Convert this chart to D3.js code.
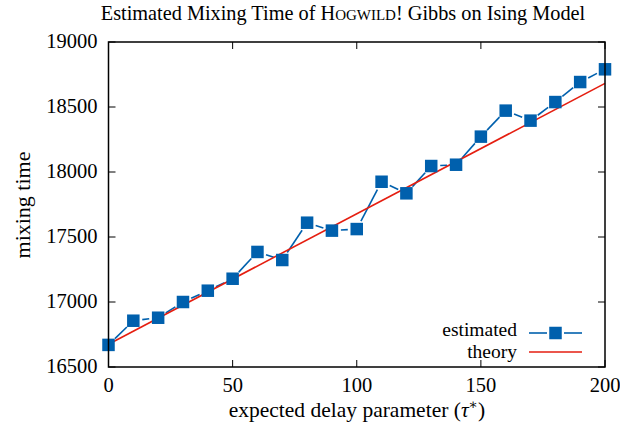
<!DOCTYPE html>
<html><head><meta charset="utf-8">
<script src="https://cdn.jsdelivr.net/npm/d3@7"></script>
<style>body{margin:0;background:#fff}svg{display:block}text{font-family:"Liberation Serif","DejaVu Serif",serif;fill:#000}</style>
</head><body>
<svg id="c" width="620" height="425"></svg>
<script>
const delays = [0,10,20,30,40,50,60,70,80,90,100,110,120,130,140,150,160,170,180,190,200];
const estimated = [16670,16856,16879,17000,17087,17179,17385,17323,17610,17549,17561,17925,17836,18046,18056,18272,18472,18395,18538,18692,18790];
const theoryEnds = [[0,16675],[200,18682]];
const xTicks = [0,50,100,150,200];
const yTicks = [16500,17000,17500,18000,18500,19000];

const svg = d3.select("#c");
const L=108.5, R=605, T=42, B=367;
const x = d3.scaleLinear().domain([0,200]).range([L,R]);
const y = d3.scaleLinear().domain([16500,19000]).range([B,T]);

const tl = 7, fs = 20.5;
const g = svg.append("g");
xTicks.forEach(t=>{
  g.append("line").attr("x1",x(t)).attr("x2",x(t)).attr("y1",B).attr("y2",B-tl).attr("stroke","#000").attr("stroke-width",1);
  g.append("line").attr("x1",x(t)).attr("x2",x(t)).attr("y1",T).attr("y2",T+tl).attr("stroke","#000").attr("stroke-width",1);
  g.append("text").attr("x",x(t)).attr("y",B+25).attr("text-anchor","middle").attr("font-size",fs).text(t);
});
yTicks.forEach(t=>{
  g.append("line").attr("x1",L).attr("x2",L+tl).attr("y1",y(t)).attr("y2",y(t)).attr("stroke","#000").attr("stroke-width",1);
  g.append("line").attr("x1",R).attr("x2",R-tl).attr("y1",y(t)).attr("y2",y(t)).attr("stroke","#000").attr("stroke-width",1);
  g.append("text").attr("x",L-11).attr("y",y(t)+6).attr("text-anchor","end").attr("font-size",fs).text(t);
});

const blue="#0060ad", red="#e51e10";
const gap=9;
for(let i=0;i<delays.length-1;i++){
  const x1=x(delays[i]), y1=y(estimated[i]), x2=x(delays[i+1]), y2=y(estimated[i+1]);
  const dx=x2-x1, dy=y2-y1, len=Math.hypot(dx,dy);
  if(len<=2*gap) continue;
  const ux=dx/len, uy=dy/len;
  svg.append("line").attr("x1",x1+ux*gap).attr("y1",y1+uy*gap).attr("x2",x2-ux*gap).attr("y2",y2-uy*gap)
    .attr("stroke",blue).attr("stroke-width",1.6);
}
svg.append("line").attr("x1",x(theoryEnds[0][0])).attr("y1",y(theoryEnds[0][1]))
  .attr("x2",x(theoryEnds[1][0])).attr("y2",y(theoryEnds[1][1])).attr("stroke",red).attr("stroke-width",1.6);
const ms=12.5;
svg.selectAll("rect.m").data(delays).join("rect").attr("class","m")
  .attr("x",(d)=>x(d)-ms/2).attr("y",(d,i)=>y(estimated[i])-ms/2).attr("width",ms).attr("height",ms).attr("fill",blue);

svg.append("rect").attr("x",L).attr("y",T).attr("width",R-L).attr("height",B-T).attr("fill","none").attr("stroke","#000").attr("stroke-width",1.5);

const lg = svg.append("g"), lfs=19.5;
lg.append("text").attr("x",517).attr("y",336).attr("text-anchor","end").attr("font-size",lfs).text("estimated");
lg.append("text").attr("x",517).attr("y",358).attr("text-anchor","end").attr("font-size",lfs).text("theory");
lg.append("line").attr("x1",529).attr("x2",547).attr("y1",333).attr("y2",333).attr("stroke",blue).attr("stroke-width",1.6);
lg.append("line").attr("x1",564).attr("x2",582).attr("y1",333).attr("y2",333).attr("stroke",blue).attr("stroke-width",1.6);
lg.append("rect").attr("x",555.5-ms/2).attr("y",333-ms/2).attr("width",ms).attr("height",ms).attr("fill",blue);
lg.append("line").attr("x1",529).attr("x2",582).attr("y1",352).attr("y2",352).attr("stroke",red).attr("stroke-width",1.6);

const title = svg.append("text").attr("x",343).attr("y",20).attr("text-anchor","middle").attr("font-size",20.3);
title.append("tspan").text("Estimated Mixing Time of H");
title.append("tspan").attr("font-size",15).text("OGWILD");
title.append("tspan").text("! Gibbs on Ising Model");

svg.append("text").attr("transform","translate(30,205) rotate(-90)").attr("text-anchor","middle").attr("font-size",22).text("mixing time");
const xl = svg.append("text").attr("x",357).attr("y",417).attr("text-anchor","middle").attr("font-size",21.5);
xl.append("tspan").text("expected delay parameter (");
xl.append("tspan").attr("font-style","italic").text("τ");
xl.append("tspan").attr("font-size",14).attr("dy",-8).text("∗");
xl.append("tspan").attr("dy",8).text(")");
</script>
</body></html>
